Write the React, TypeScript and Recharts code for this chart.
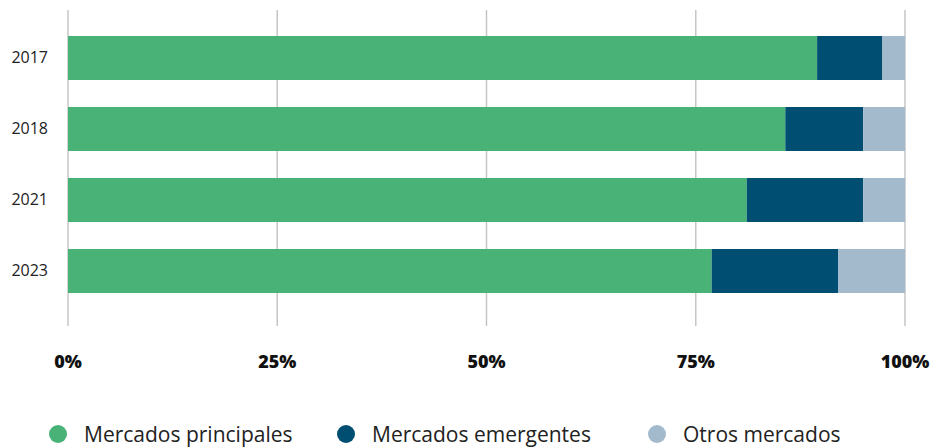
import { BarChart, Bar, XAxis, YAxis, CartesianGrid } from 'recharts';

const years = ['2017', '2018', '2021', '2023'];
const principales = [89.5, 85.7, 81.1, 76.9];
const emergentes = [7.8, 9.3, 13.9, 15.1];
const otros = [2.7, 5.0, 5.0, 8.0];
const xTicks = [0, 25, 50, 75, 100];

const SERIES = [
  { key: 'principales', name: 'Mercados principales', color: '#48B277' },
  { key: 'emergentes', name: 'Mercados emergentes', color: '#004E71' },
  { key: 'otros', name: 'Otros mercados', color: '#A3BACC' },
];

const FONT = '"Open Sans", "Noto Sans", sans-serif';

const data = years.map((year, i) => ({
  year,
  principales: principales[i],
  emergentes: emergentes[i],
  otros: otros[i],
}));

// legend item x positions (dot centres)
const LEGEND_X = [58, 346, 657];

export default function App() {
  return (
    <div style={{ position: 'absolute', left: 0, top: 0, width: 936, height: 448, background: '#fff' }}>
      <BarChart
        width={936}
        height={448}
        data={data}
        layout="vertical"
        margin={{ top: 10, right: 31, left: 0, bottom: 62 }}
      >
        <CartesianGrid horizontal={false} vertical stroke="#c6c6c6" strokeWidth={1.5} />
        <XAxis
          type="number"
          domain={[0, 100]}
          ticks={xTicks}
          tickFormatter={(v) => `${v}%`}
          axisLine={false}
          tickLine={false}
          height={60}
          tickMargin={23}
          tick={{ fontSize: 18, fontWeight: 800, fill: '#111', fontFamily: FONT }}
        />
        <YAxis
          type="category"
          dataKey="year"
          width={68}
          axisLine={false}
          tickLine={false}
          tickMargin={14}
          padding={{ top: 12, bottom: 20 }}
          tick={{ fontSize: 16, fill: '#222', fontFamily: FONT }}
        />
        {SERIES.map((s) => (
          <Bar
            key={s.key}
            dataKey={s.key}
            name={s.name}
            stackId="a"
            fill={s.color}
            barSize={44}
            isAnimationActive={false}
          />
        ))}
      </BarChart>
      {SERIES.map((s, i) => (
        <div
          key={s.key}
          style={{
            position: 'absolute',
            left: LEGEND_X[i] - 9,
            top: 420,
            display: 'flex',
            alignItems: 'center',
            fontFamily: FONT,
            fontSize: 21,
            color: '#222',
            whiteSpace: 'nowrap',
          }}
        >
          <span
            style={{
              display: 'inline-block',
              width: 18,
              height: 18,
              borderRadius: '50%',
              background: s.color,
              marginRight: 17,
            }}
          />
          {s.name}
        </div>
      ))}
    </div>
  );
}
